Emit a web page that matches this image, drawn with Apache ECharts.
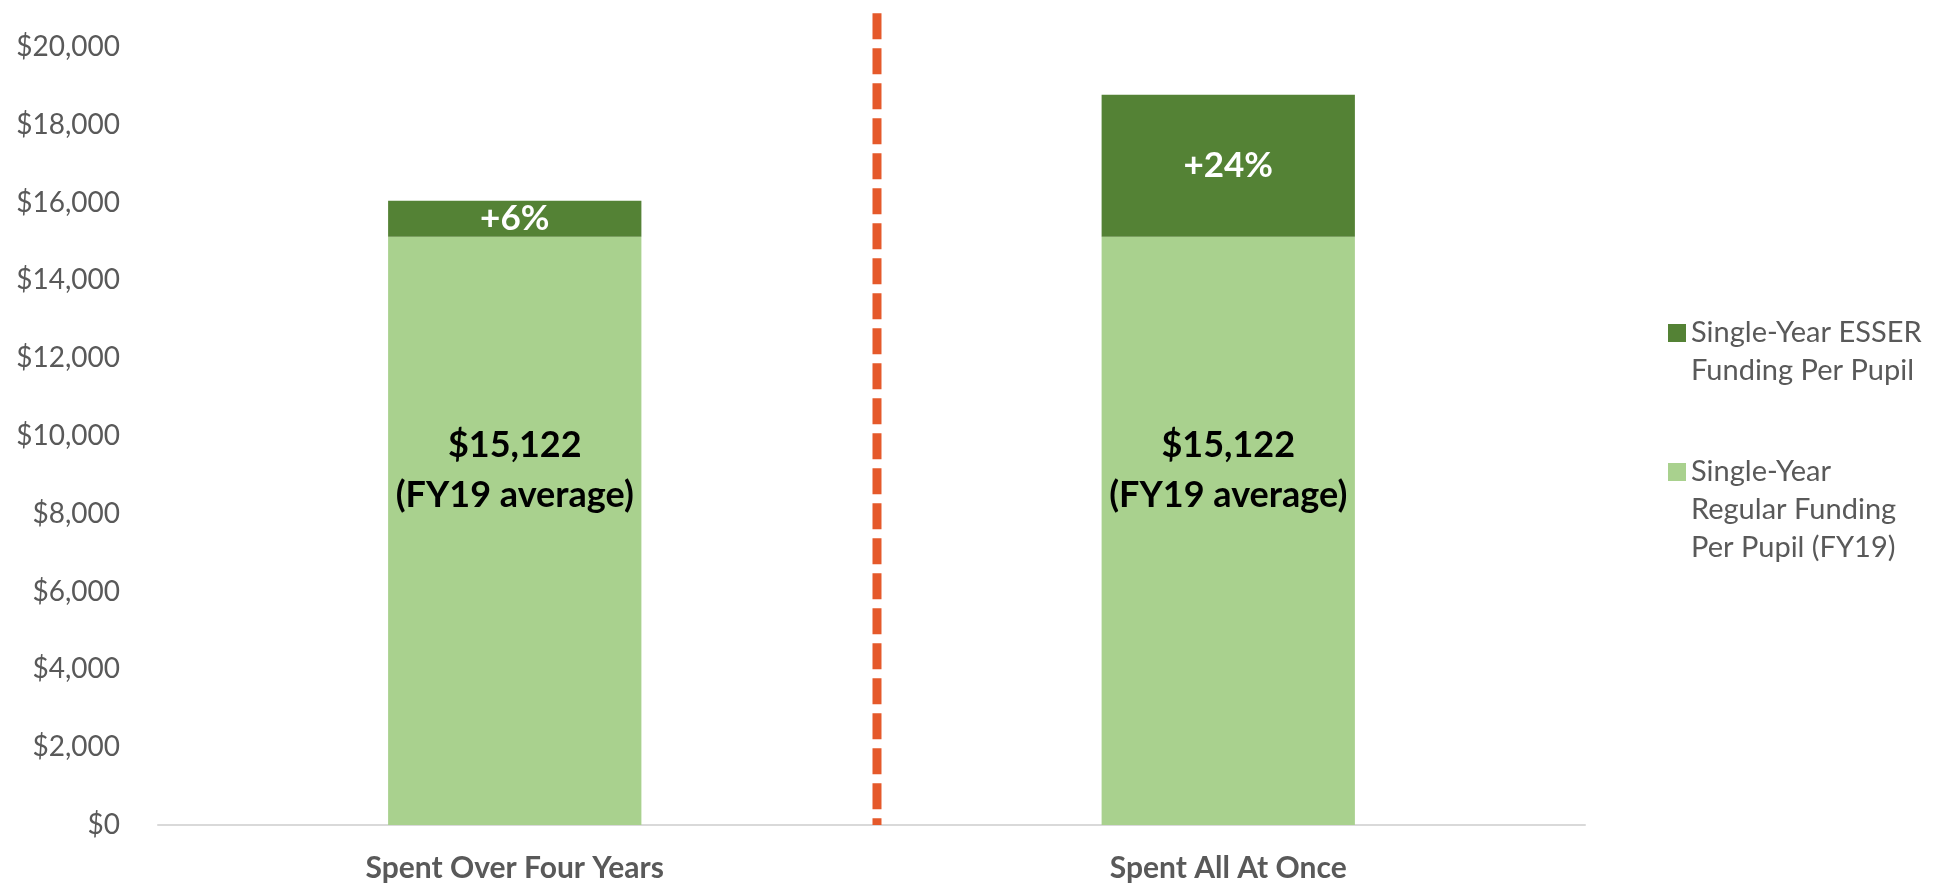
<!DOCTYPE html>
<html>
<head>
<meta charset="utf-8">
<script src="https://cdn.jsdelivr.net/npm/echarts@6/dist/echarts.min.js"></script>
<style>
  html, body { margin: 0; padding: 0; background: #ffffff; }
  #chart { width: 1949px; height: 884px; }
</style>
</head>
<body>
<div id="chart"></div>
<script>
// data
const categories = ['Spent Over Four Years', 'Spent All At Once'];
const regularFunding = [15122, 15122];
const esserFunding = [925, 3650];
const seriesNames = ['Single-Year Regular Funding Per Pupil (FY19)', 'Single-Year ESSER Funding Per Pupil'];
const legendLines = {
    'Single-Year ESSER Funding Per Pupil': ['Single-Year ESSER', 'Funding Per Pupil'],
    'Single-Year Regular Funding Per Pupil (FY19)': ['Single-Year', 'Regular Funding', 'Per Pupil (FY19)']
};
const yTicks = { min: 0, max: 20000, interval: 2000 };
// vertical divider between the two scenarios (hidden value axis 0..2)
const dividerX = 1.0077;
const dividerRange = [20870, 0];

const font = 'Lato';
const grey = '#595959';
const lineH = 38;

const money = v => '$' + String(v).replace(/\B(?=(\d{3})+(?!\d))/g, ',');

// legend text is centred on the icon; pad with empty lines above so the
// icon sits next to the first line, as in Excel
const legendText = n => {
    const lines = legendLines[n];
    return new Array(lines.length - 1).fill('').concat(lines).join('\n');
};

const chart = echarts.init(document.getElementById('chart'));

const legendBase = {
    orient: 'vertical',
    left: 1668,
    padding: 0,
    itemWidth: 18,
    itemHeight: 18,
    icon: 'rect',
    formatter: legendText,
    textStyle: { fontFamily: font, fontSize: 29, color: grey, lineHeight: lineH }
};

const option = {
    animation: false,
    backgroundColor: '#ffffff',
    grid: { left: 158, right: 364, top: 47, bottom: 59 },
    legend: [
        Object.assign({}, legendBase, { data: [seriesNames[1]], top: 276 }),
        Object.assign({}, legendBase, { data: [seriesNames[0]], top: 377 })
    ],
    xAxis: [
        {
            type: 'category',
            data: categories,
            axisTick: { show: false },
            axisLine: { lineStyle: { color: '#D9D9D9', width: 2 } },
            axisLabel: { fontFamily: font, fontSize: 30, fontWeight: 'bold', color: grey, margin: 28 }
        },
        { type: 'value', min: 0, max: 2, show: false }
    ],
    yAxis: {
        type: 'value',
        min: yTicks.min,
        max: yTicks.max,
        interval: yTicks.interval,
        axisLine: { show: false },
        axisTick: { show: false },
        splitLine: { show: false },
        axisLabel: { fontFamily: font, fontSize: 28, color: grey, margin: 38, formatter: money }
    },
    series: [
        {
            name: seriesNames[0],
            type: 'bar',
            stack: 'total',
            barWidth: '35.5%',
            data: regularFunding,
            itemStyle: { color: '#A9D18E' },
            label: {
                show: true,
                position: 'inside',
                offset: [0, -60],
                fontFamily: font,
                fontSize: 36,
                fontWeight: 'bold',
                color: '#000000',
                lineHeight: 50,
                formatter: p => money(p.value) + '\n(FY19 average)'
            }
        },
        {
            name: seriesNames[1],
            type: 'bar',
            stack: 'total',
            barWidth: '35.5%',
            data: esserFunding,
            itemStyle: { color: '#548235' },
            label: {
                show: true,
                position: 'inside',
                fontFamily: font,
                fontSize: 35,
                fontWeight: 'bold',
                color: '#ffffff',
                formatter: p => '+' + Math.round(p.value / regularFunding[p.dataIndex] * 100) + '%'
            }
        },
        {
            type: 'line',
            xAxisIndex: 1,
            data: dividerRange.map(v => [dividerX, v]),
            symbol: 'none',
            clip: false,
            silent: true,
            lineStyle: { color: '#E5592B', width: 9, type: [26, 9], cap: 'butt' }
        }
    ]
};

chart.setOption(option);
</script>
</body>
</html>
